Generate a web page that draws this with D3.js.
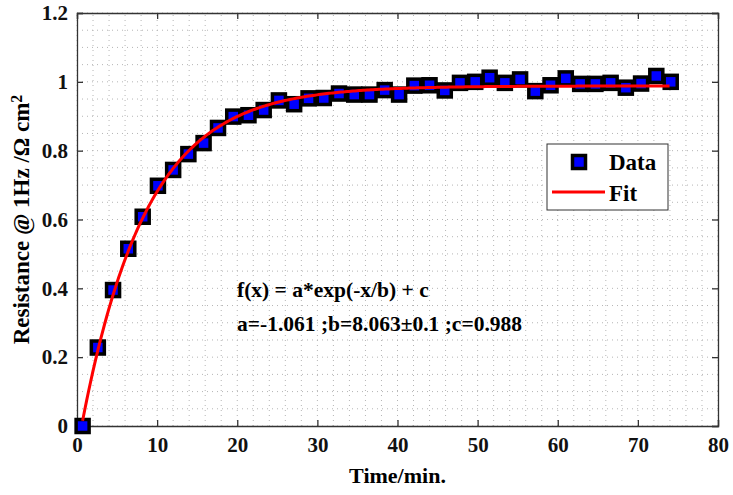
<!DOCTYPE html>
<html>
<head>
<meta charset="utf-8">
<script src="https://cdn.jsdelivr.net/npm/d3@7"></script>
<style>
  body { margin: 0; background: #fff; }
</style>
</head>
<body>
<div id="chart"></div>
<script>
// measured data (time in minutes, resistance in ohm cm2)
var timeMin = [0.7, 2.6, 4.5, 6.4, 8.2, 10.1, 12.0, 13.9, 15.8, 17.6,
               19.5, 21.4, 23.3, 25.2, 27.1, 28.9, 30.8, 32.7, 34.6, 36.5,
               38.4, 40.2, 42.1, 44.0, 45.9, 47.8, 49.7, 51.5, 53.4, 55.3,
               57.2, 59.1, 61.0, 62.8, 64.7, 66.6, 68.5, 70.4, 72.3, 74.1];
var resistance = [0, 0.228, 0.395, 0.515, 0.608, 0.698, 0.744, 0.79, 0.822, 0.866,
                  0.899, 0.903, 0.918, 0.946, 0.935, 0.952, 0.953, 0.966, 0.963, 0.963,
                  0.976, 0.963, 0.989, 0.99, 0.975, 0.997, 1.0, 1.012, 0.997, 1.007,
                  0.973, 0.99, 1.01, 0.994, 0.994, 0.997, 0.983, 0.995, 1.017, 1.0];

// fit parameters  f(x) = a*exp(-x/b) + c
var fitA = -1.061, fitB = 8.063, fitC = 0.988;

var xTicks = [0, 10, 20, 30, 40, 50, 60, 70, 80];
var yTicks = [0, 0.2, 0.4, 0.6, 0.8, 1, 1.2];
var xMinor = d3.range(0, 81, 2);
var yMinor = d3.range(0, 1.2001, 0.05);

var width = 733, height = 495;
var margin = {top: 13, right: 15, bottom: 69, left: 77};
var serif = '"Liberation Serif", "Times New Roman", "DejaVu Serif", serif';

var svg = d3.select("#chart").append("svg")
    .attr("width", width)
    .attr("height", height);

var x = d3.scaleLinear().domain([0, 80]).range([margin.left, width - margin.right]);
var y = d3.scaleLinear().domain([0, 1.2]).range([height - margin.bottom, margin.top]);

// grid (dotted, every minor step)
var grid = svg.append("g").attr("class", "grid");
grid.selectAll("line.gx").data(xMinor).enter().append("line")
    .attr("x1", d => x(d)).attr("x2", d => x(d))
    .attr("y1", y(0)).attr("y2", y(1.2))
    .attr("stroke", "#b5b5b5").attr("stroke-width", 1).attr("stroke-dasharray", "1,4");
grid.selectAll("line.gy").data(yMinor).enter().append("line")
    .attr("y1", d => y(d)).attr("y2", d => y(d))
    .attr("x1", x(0)).attr("x2", x(80))
    .attr("stroke", "#b5b5b5").attr("stroke-width", 1).attr("stroke-dasharray", "1,4");

// axes, ticks inward on all four sides
var tickLen = 6;
var axBottom = svg.append("g").attr("transform", "translate(0," + y(0) + ")")
    .call(d3.axisBottom(x).tickValues(xTicks).tickSize(-tickLen).tickPadding(11).tickFormat(d3.format("d")));
var axTop = svg.append("g").attr("transform", "translate(0," + y(1.2) + ")")
    .call(d3.axisTop(x).tickValues(xTicks).tickSize(-tickLen).tickFormat(""));
var axLeft = svg.append("g").attr("transform", "translate(" + x(0) + ",0)")
    .call(d3.axisLeft(y).tickValues(yTicks).tickSize(-tickLen).tickPadding(9).tickFormat(d => d3.format("~g")(d)));
var axRight = svg.append("g").attr("transform", "translate(" + x(80) + ",0)")
    .call(d3.axisRight(y).tickValues(yTicks).tickSize(-tickLen).tickFormat(""));

[axBottom, axTop, axLeft, axRight].forEach(function (g) {
    g.attr("font-family", serif).attr("font-weight", "bold").attr("font-size", 21);
    g.select(".domain").attr("stroke", "#333").attr("stroke-width", 1.3);
    g.selectAll(".tick line").attr("stroke", "#333").attr("stroke-width", 1.3);
    g.selectAll(".tick text").attr("fill", "#111");
});
axBottom.selectAll(".tick text").attr("dy", "0.71em");

// data markers
svg.append("g").selectAll("rect").data(timeMin).enter().append("rect")
    .attr("x", (d) => x(d) - 6.5)
    .attr("y", (d, i) => y(resistance[i]) - 6.5)
    .attr("width", 13).attr("height", 13)
    .attr("fill", "#0000ff").attr("stroke", "#000").attr("stroke-width", 3.5);

// fit curve
var fitX = d3.range(timeMin[0], timeMin[timeMin.length - 1] + 0.001, 0.25);
var line = d3.line().x(d => x(d)).y(d => y(fitA * Math.exp(-d / fitB) + fitC));
svg.append("path").datum(fitX)
    .attr("d", line)
    .attr("fill", "none").attr("stroke", "#ff0000").attr("stroke-width", 3);

// all remaining text in bold serif
function label(sel, size) {
    return sel.attr("font-family", serif).attr("font-weight", "bold")
        .attr("font-size", size).attr("fill", "#000");
}

// axis labels
label(svg.append("text"), 22)
    .attr("x", (x(0) + x(80)) / 2).attr("y", 483)
    .attr("text-anchor", "middle")
    .text("Time/min.");

var ylab = label(svg.append("text"), 23)
    .attr("transform", "translate(29," + (y(0) + y(1.2)) / 2 + ") rotate(-90)")
    .attr("text-anchor", "middle");
ylab.append("tspan").text("Resistance @ 1Hz /Ω cm");
ylab.append("tspan").attr("dy", "-0.45em").attr("font-size", 16).text("2");

// annotation
label(svg.append("text"), 21.5).attr("x", 237).attr("y", 297)
    .text("f(x) = a*exp(-x/b) + c");
label(svg.append("text"), 21.5).attr("x", 237).attr("y", 331)
    .text("a=" + fitA + " ;b=" + fitB + "±0.1 ;c=" + fitC);

// legend
var lg = svg.append("g");
lg.append("rect").attr("x", 547).attr("y", 144).attr("width", 121).attr("height", 66)
    .attr("fill", "#fff").attr("stroke", "#333").attr("stroke-width", 1);
lg.append("rect").attr("x", 579 - 6.5).attr("y", 162 - 6.5).attr("width", 13).attr("height", 13)
    .attr("fill", "#0000ff").attr("stroke", "#000").attr("stroke-width", 3.5);
label(lg.append("text"), 23).attr("x", 609).attr("y", 170).text("Data");
lg.append("line").attr("x1", 552).attr("x2", 605).attr("y1", 192).attr("y2", 192)
    .attr("stroke", "#ff0000").attr("stroke-width", 3);
label(lg.append("text"), 23).attr("x", 609).attr("y", 201).text("Fit");
</script>
</body>
</html>
